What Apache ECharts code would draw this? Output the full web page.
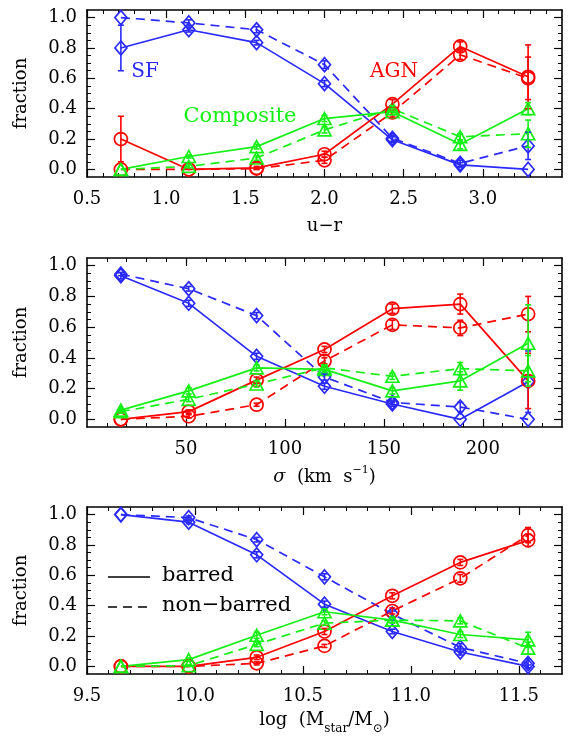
<!DOCTYPE html>
<html><head><meta charset="utf-8">
<script src="https://cdn.jsdelivr.net/npm/echarts@6/dist/echarts.min.js"></script>
<style>html,body{margin:0;padding:0;background:#fff}#c{width:569px;height:736px}</style>
</head><body><div id="c"></div><script>
// ---------- data ----------
const urX    = [0.714, 1.143, 1.571, 2.0, 2.429, 2.857, 3.286];
const sigmaX = [17.1, 51.4, 85.7, 120, 154.3, 188.6, 222.9];
const massX  = [9.657, 9.971, 10.286, 10.6, 10.914, 11.229, 11.543];

// panel 1: u-r
const urSFbar      = [0.80, 0.92, 0.835, 0.565, 0.195, 0.03, 0.0];
const urSFbarErr   = [0.15, 0.015, 0.015, 0.02, 0.02, 0.015, 0.0];
const urSFnon      = [1.0, 0.965, 0.92, 0.69, 0.205, 0.04, 0.155];
const urSFnonErr   = [0.0, 0.02, 0.02, 0.025, 0.02, 0.02, 0.09];
const urAGNbar     = [0.20, 0.0, 0.01, 0.10, 0.43, 0.81, 0.61];
const urAGNbarErr  = [0.15, 0.0, 0.01, 0.02, 0.03, 0.03, 0.21];
const urAGNnon     = [0.0, 0.0, 0.005, 0.06, 0.375, 0.755, 0.60];
const urAGNnonErr  = [0.0, 0.0, 0.005, 0.02, 0.03, 0.03, 0.14];
const urCompbar    = [0.0, 0.085, 0.15, 0.335, 0.38, 0.165, 0.40];
const urCompbarErr = [0.0, 0.01, 0.015, 0.02, 0.02, 0.03, 0.04];
const urCompnon    = [0.0, 0.02, 0.075, 0.26, 0.40, 0.215, 0.235];
const urCompnonErr = [0.0, 0.01, 0.015, 0.02, 0.02, 0.02, 0.09];

// panel 2: sigma
const sgSFbar      = [0.935, 0.755, 0.41, 0.215, 0.10, 0.0, 0.245];
const sgSFbarErr   = [0.02, 0.02, 0.02, 0.02, 0.015, 0.0, 0.2];
const sgSFnon      = [0.945, 0.85, 0.675, 0.275, 0.11, 0.08, 0.0];
const sgSFnonErr   = [0.01, 0.015, 0.02, 0.02, 0.015, 0.03, 0.0];
const sgAGNbar     = [0.0, 0.05, 0.255, 0.455, 0.72, 0.75, 0.25];
const sgAGNbarErr  = [0.0, 0.01, 0.02, 0.02, 0.03, 0.065, 0.18];
const sgAGNnon     = [0.0, 0.02, 0.095, 0.38, 0.615, 0.595, 0.685];
const sgAGNnonErr  = [0.0, 0.01, 0.01, 0.02, 0.03, 0.05, 0.115];
const sgCompbar    = [0.06, 0.185, 0.335, 0.325, 0.185, 0.25, 0.495];
const sgCompbarErr = [0.01, 0.02, 0.02, 0.02, 0.02, 0.06, 0.25];
const sgCompnon    = [0.05, 0.13, 0.23, 0.335, 0.28, 0.33, 0.315];
const sgCompnonErr = [0.01, 0.015, 0.02, 0.02, 0.02, 0.04, 0.1];

// panel 3: stellar mass
const msSFbar      = [1.0, 0.95, 0.735, 0.41, 0.23, 0.095, 0.0];
const msSFbarErr   = [0.0, 0.01, 0.02, 0.02, 0.015, 0.02, 0.01];
const msSFnon      = [1.0, 0.98, 0.835, 0.59, 0.345, 0.125, 0.02];
const msSFnonErr   = [0.0, 0.01, 0.015, 0.02, 0.02, 0.025, 0.03];
const msAGNbar     = [0.0, 0.0, 0.06, 0.23, 0.465, 0.685, 0.83];
const msAGNbarErr  = [0.0, 0.0, 0.015, 0.02, 0.02, 0.02, 0.04];
const msAGNnon     = [0.0, 0.0, 0.02, 0.135, 0.365, 0.58, 0.865];
const msAGNnonErr  = [0.0, 0.0, 0.01, 0.01, 0.02, 0.025, 0.05];
const msCompbar    = [0.0, 0.045, 0.205, 0.36, 0.305, 0.21, 0.175];
const msCompbarErr = [0.0, 0.01, 0.02, 0.02, 0.02, 0.02, 0.05];
const msCompnon    = [0.0, 0.005, 0.145, 0.285, 0.305, 0.30, 0.12];
const msCompnonErr = [0.0, 0.005, 0.015, 0.015, 0.015, 0.02, 0.04];

// tick labels
const yTicks   = [0.0, 0.2, 0.4, 0.6, 0.8, 1.0];
const urTicks  = [0.5, 1.0, 1.5, 2.0, 2.5, 3.0];
const sgTicks  = [50, 100, 150, 200];
const msTicks  = [9.5, 10.0, 10.5, 11.0, 11.5];

// ---------- styling ----------
const FONT = '"DejaVu Serif", serif';
const C_SF = '#2a2aff', C_AGN = '#ff0000', C_COMP = '#14f014';

const panels = [
  {top: 10,  height: 167, xmin: 0.5, xmax: 3.5, ticks: urTicks, minorStep: 0.1, dec: 1,
   name: 'u−r', nameGap: 40, xs: urX,
   sets: [[urSFbar, urSFbarErr, urSFnon, urSFnonErr],
          [urAGNbar, urAGNbarErr, urAGNnon, urAGNnonErr],
          [urCompbar, urCompbarErr, urCompnon, urCompnonErr]]},
  {top: 258, height: 169, xmin: 0, xmax: 240, ticks: sgTicks, minorStep: 10, dec: 0,
   name: '{it|σ}  (km  s{sup|−1})', nameGap: 38, xs: sigmaX,
   sets: [[sgSFbar, sgSFbarErr, sgSFnon, sgSFnonErr],
          [sgAGNbar, sgAGNbarErr, sgAGNnon, sgAGNnonErr],
          [sgCompbar, sgCompbarErr, sgCompnon, sgCompnonErr]]},
  {top: 507, height: 170, xmin: 9.5, xmax: 11.7, ticks: msTicks, minorStep: 0.1, dec: 1,
   name: 'log  (M{sub|star}/M{sub|⊙})', nameGap: 37, xs: massX,
   sets: [[msSFbar, msSFbarErr, msSFnon, msSFnonErr],
          [msAGNbar, msAGNbarErr, msAGNnon, msAGNnonErr],
          [msCompbar, msCompbarErr, msCompnon, msCompnonErr]]}
];
const YMIN = -0.05, YMAX = 1.05;

function range(a, b, step) {
  const out = [];
  const n = Math.round((b - a) / step);
  for (let i = 0; i <= n; i++) out.push(+(a + i * step).toFixed(6));
  return out;
}
const yMinor = range(0, 1.0, 0.05).filter(v => Math.abs(v * 5 - Math.round(v * 5)) > 1e-6);

const grids = [], xAxes = [], yAxes = [], series = [];
const lineW = 1.7;
const richName = {
  it: {fontFamily: FONT, fontSize: 18, fontStyle: 'italic', color: '#000'},
  sup: {fontFamily: FONT, fontSize: 11, color: '#000', verticalAlign: 'top', lineHeight: 24},
  sub: {fontFamily: FONT, fontSize: 12, color: '#000', verticalAlign: 'bottom', lineHeight: 14, padding: [0,0,-6,0]}
};

panels.forEach((p, g) => {
  grids.push({left: 87, right: 7, top: p.top, height: p.height, containLabel: false});
  const xMinor = range(Math.ceil(p.xmin / p.minorStep) * p.minorStep, p.xmax, p.minorStep)
      .filter(v => !p.ticks.some(t => Math.abs(t - v) < 1e-6) && v > p.xmin + 1e-6 && v < p.xmax - 1e-6);
  const base = {type: 'value', gridIndex: g, min: p.xmin, max: p.xmax, splitLine: {show: false}};
  const idx = xAxes.length;
  xAxes.push(Object.assign({}, base, {
    position: 'bottom',
    axisLine: {show: true, onZero: false, lineStyle: {color: '#000', width: 1.6}},
    axisTick: {show: true, inside: true, length: 8, customValues: p.ticks, lineStyle: {color: '#000', width: 1.2}},
    axisLabel: {show: true, customValues: p.ticks, color: '#000', fontFamily: FONT, fontSize: 18, margin: 13,
      formatter: v => v.toFixed(p.dec)},
    name: p.name, nameLocation: 'middle', nameGap: p.nameGap,
    nameTextStyle: {color: '#000', fontFamily: FONT, fontSize: 18, rich: richName}
  }));
  xAxes.push(Object.assign({}, base, {
    position: 'bottom', axisLine: {show: false, onZero: false},
    axisTick: {show: true, inside: true, length: 4, customValues: xMinor, lineStyle: {color: '#000', width: 1}},
    axisLabel: {show: false}
  }));
  xAxes.push(Object.assign({}, base, {
    position: 'top',
    axisLine: {show: true, onZero: false, lineStyle: {color: '#000', width: 1.6}},
    axisTick: {show: true, inside: true, length: 8, customValues: p.ticks, lineStyle: {color: '#000', width: 1.2}},
    axisLabel: {show: false}
  }));
  xAxes.push(Object.assign({}, base, {
    position: 'top', axisLine: {show: false, onZero: false},
    axisTick: {show: true, inside: true, length: 4, customValues: xMinor, lineStyle: {color: '#000', width: 1}},
    axisLabel: {show: false}
  }));
  const ybase = {type: 'value', gridIndex: g, min: YMIN, max: YMAX, splitLine: {show: false}};
  const yidx = yAxes.length;
  yAxes.push(Object.assign({}, ybase, {
    position: 'left',
    axisLine: {show: true, onZero: false, lineStyle: {color: '#000', width: 1.6}},
    axisTick: {show: true, inside: true, length: 8, customValues: yTicks, lineStyle: {color: '#000', width: 1.2}},
    axisLabel: {show: true, customValues: yTicks, color: '#000', fontFamily: FONT, fontSize: 18, margin: 10,
      formatter: v => v.toFixed(1)},
    name: 'fraction', nameLocation: 'middle', nameGap: 57,
    nameTextStyle: {color: '#000', fontFamily: FONT, fontSize: 18}
  }));
  yAxes.push(Object.assign({}, ybase, {
    position: 'left', axisLine: {show: false, onZero: false},
    axisTick: {show: true, inside: true, length: 4, customValues: yMinor, lineStyle: {color: '#000', width: 1}},
    axisLabel: {show: false}
  }));
  yAxes.push(Object.assign({}, ybase, {
    position: 'right',
    axisLine: {show: true, onZero: false, lineStyle: {color: '#000', width: 1.6}},
    axisTick: {show: true, inside: true, length: 8, customValues: yTicks, lineStyle: {color: '#000', width: 1.2}},
    axisLabel: {show: false}
  }));
  yAxes.push(Object.assign({}, ybase, {
    position: 'right', axisLine: {show: false, onZero: false},
    axisTick: {show: true, inside: true, length: 4, customValues: yMinor, lineStyle: {color: '#000', width: 1}},
    axisLabel: {show: false}
  }));

  const styles = [
    {color: C_SF, symbol: 'diamond', size: [12, 14]},
    {color: C_AGN, symbol: 'circle', size: 13},
    {color: C_COMP, symbol: 'triangle', size: [13, 12]}
  ];
  p.sets.forEach((s, k) => {
    const st = styles[k];
    [[s[0], s[1], 'solid'], [s[2], s[3], [9, 6]]].forEach(([ys, es, dash]) => {
      series.push({
        type: 'line', xAxisIndex: idx, yAxisIndex: yidx,
        data: p.xs.map((x, i) => [x, ys[i]]),
        symbol: st.symbol, symbolSize: st.size, showSymbol: true, animation: false,
        lineStyle: {color: st.color, width: lineW, type: dash},
        itemStyle: {color: 'rgba(255,255,255,0)', borderColor: st.color, borderWidth: 1.7},
        emphasis: {disabled: true}, z: 3
      });
      series.push({
        type: 'custom', xAxisIndex: idx, yAxisIndex: yidx, animation: false, z: 4,
        data: p.xs.map((x, i) => [x, ys[i], es[i]]),
        encode: {x: 0, y: 1},
        renderItem: (params, api) => {
          const x = api.value(0), y = api.value(1), e = api.value(2);
          if (!e) return null;
          const t = api.coord([x, y + e]), b = api.coord([x, y - e]);
          const w = 3;
          const ls = {stroke: st.color, lineWidth: 1.6};
          return {type: 'group', children: [
            {type: 'line', shape: {x1: t[0], y1: t[1], x2: b[0], y2: b[1]}, style: ls},
            {type: 'line', shape: {x1: t[0] - w, y1: t[1], x2: t[0] + w, y2: t[1]}, style: ls},
            {type: 'line', shape: {x1: b[0] - w, y1: b[1], x2: b[0] + w, y2: b[1]}, style: ls}
          ]};
        }
      });
    });
  });
});

const txt = (x, y, text, fill, size, align) => ({
  type: 'text', x, y, silent: true, z: 10,
  style: {text, fill, font: `${size}px ${FONT}`, textAlign: align || 'center', textVerticalAlign: 'middle'}
});
const graphic = [
  txt(145, 72, 'SF', C_SF, 20),
  txt(394, 72, 'AGN', C_AGN, 20),
  txt(240, 117, 'Composite', C_COMP, 21),
  {type: 'line', shape: {x1: 108, y1: 577, x2: 150, y2: 577}, style: {stroke: '#000', lineWidth: 1.6}, z: 10},
  {type: 'line', shape: {x1: 108, y1: 607, x2: 150, y2: 607}, style: {stroke: '#000', lineWidth: 1.6, lineDash: [9, 6]}, z: 10},
  txt(162, 576, 'barred', '#000', 21, 'left'),
  txt(162, 606, 'non−barred', '#000', 21, 'left')
];

const chart = echarts.init(document.getElementById('c'), null, {renderer: 'canvas'});
chart.setOption({
  animation: false, backgroundColor: '#fff',
  grid: grids, xAxis: xAxes, yAxis: yAxes, series, graphic
});
</script></body></html>
